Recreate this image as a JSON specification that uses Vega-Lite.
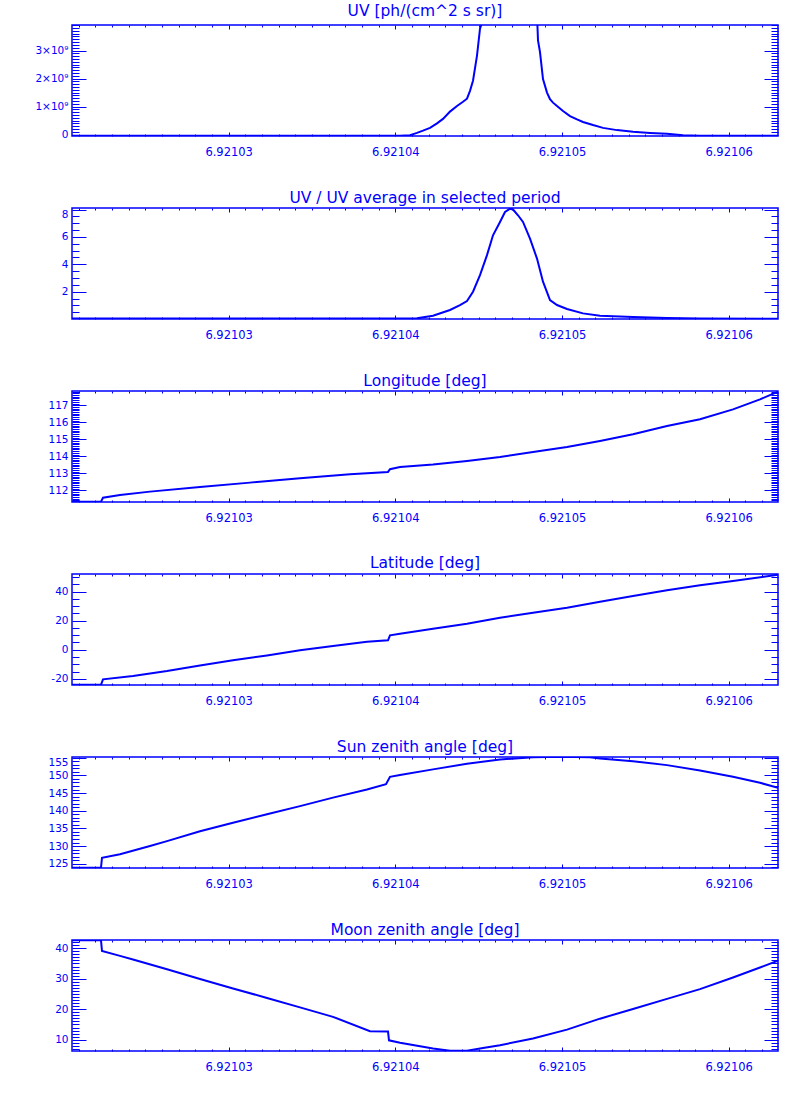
{
  "$schema": "https://vega.github.io/schema/vega-lite/v6.json",
  "background": "white",
  "padding": {"left": 34, "top": 3, "right": 5, "bottom": 5},
  "spacing": 72,
  "bounds": "flush",
  "datasets": {
    "uv": [
      {"x": 6.9210206, "y": -4e7}, {"x": 6.92104028, "y": -4e7}, {"x": 6.92104088, "y": -2e7},
      {"x": 6.9210413, "y": 6e7}, {"x": 6.92104166, "y": 1.4e8}, {"x": 6.92104208, "y": 2.4e8},
      {"x": 6.9210425, "y": 4e8}, {"x": 6.92104286, "y": 5.6e8}, {"x": 6.92104328, "y": 8.2e8},
      {"x": 6.9210437, "y": 1.02e9}, {"x": 6.92104406, "y": 1.17e9}, {"x": 6.9210443, "y": 1.28e9},
      {"x": 6.92104448, "y": 1.56e9}, {"x": 6.92104466, "y": 1.92e9}, {"x": 6.9210449, "y": 2.82e9},
      {"x": 6.92104508, "y": 3.78e9}, {"x": 6.9210455, "y": 4.5e9}, {"x": 6.92104586, "y": 5.9e9},
      {"x": 6.92104628, "y": 6.9e9}, {"x": 6.92104658, "y": 7.6e9}, {"x": 6.92104688, "y": 7.8e9},
      {"x": 6.92104736, "y": 7.35e9}, {"x": 6.92104766, "y": 6.9e9}, {"x": 6.92104808, "y": 5.7e9},
      {"x": 6.9210485, "y": 4.3e9}, {"x": 6.92104856, "y": 3.36e9}, {"x": 6.92104868, "y": 2.94e9},
      {"x": 6.92104886, "y": 1.98e9}, {"x": 6.9210491, "y": 1.5e9}, {"x": 6.92104928, "y": 1.26e9},
      {"x": 6.92104946, "y": 1.14e9}, {"x": 6.9210497, "y": 1.02e9}, {"x": 6.92105006, "y": 8.4e8},
      {"x": 6.92105048, "y": 6.6e8}, {"x": 6.9210509, "y": 5.4e8}, {"x": 6.92105126, "y": 4.5e8},
      {"x": 6.92105186, "y": 3.4e8}, {"x": 6.92105246, "y": 2.4e8}, {"x": 6.9210533, "y": 1.6e8},
      {"x": 6.92105426, "y": 1e8}, {"x": 6.92105528, "y": 6e7}, {"x": 6.9210563, "y": 3e7},
      {"x": 6.92105726, "y": -2e7}, {"x": 6.92105828, "y": -4e7}, {"x": 6.92106296, "y": -4e7}
    ],
    "ratio": [
      {"x": 6.9210206, "y": 0.04}, {"x": 6.9210413, "y": 0.06}, {"x": 6.92104226, "y": 0.25},
      {"x": 6.92104328, "y": 0.67}, {"x": 6.92104388, "y": 1.03}, {"x": 6.9210443, "y": 1.32},
      {"x": 6.92104466, "y": 2.0}, {"x": 6.92104508, "y": 3.21}, {"x": 6.9210455, "y": 4.67},
      {"x": 6.92104586, "y": 6.12}, {"x": 6.92104628, "y": 7.09}, {"x": 6.92104658, "y": 7.82},
      {"x": 6.92104688, "y": 8.06}, {"x": 6.92104706, "y": 8.0}, {"x": 6.92104736, "y": 7.58},
      {"x": 6.92104766, "y": 7.09}, {"x": 6.92104808, "y": 5.88}, {"x": 6.9210485, "y": 4.42},
      {"x": 6.92104886, "y": 2.73}, {"x": 6.92104928, "y": 1.39}, {"x": 6.9210497, "y": 1.03},
      {"x": 6.9210503, "y": 0.74}, {"x": 6.92105126, "y": 0.42}, {"x": 6.92105228, "y": 0.25},
      {"x": 6.92105426, "y": 0.15}, {"x": 6.9210563, "y": 0.09}, {"x": 6.92105828, "y": 0.05},
      {"x": 6.92106296, "y": 0.03}
    ],
    "lon": [
      {"x": 6.9210206, "y": 111.33}, {"x": 6.92102234, "y": 111.33}, {"x": 6.92102246, "y": 111.56},
      {"x": 6.92102348, "y": 111.72}, {"x": 6.92102528, "y": 111.92}, {"x": 6.92102828, "y": 112.19},
      {"x": 6.92103128, "y": 112.45}, {"x": 6.92103428, "y": 112.71}, {"x": 6.92103728, "y": 112.94},
      {"x": 6.92103956, "y": 113.08}, {"x": 6.92103968, "y": 113.24}, {"x": 6.92104028, "y": 113.37},
      {"x": 6.92104226, "y": 113.51}, {"x": 6.9210443, "y": 113.72}, {"x": 6.92104628, "y": 113.96},
      {"x": 6.92104826, "y": 114.25}, {"x": 6.9210503, "y": 114.55}, {"x": 6.92105228, "y": 114.9},
      {"x": 6.92105426, "y": 115.29}, {"x": 6.9210563, "y": 115.78}, {"x": 6.92105828, "y": 116.18},
      {"x": 6.92106026, "y": 116.76}, {"x": 6.92106188, "y": 117.35}, {"x": 6.92106296, "y": 117.8}
    ],
    "lat": [
      {"x": 6.9210206, "y": -24.2}, {"x": 6.92102234, "y": -24.2}, {"x": 6.92102246, "y": -20.4},
      {"x": 6.92102426, "y": -18.1}, {"x": 6.9210263, "y": -14.7}, {"x": 6.92102828, "y": -10.8},
      {"x": 6.92103026, "y": -7.3}, {"x": 6.9210323, "y": -3.9}, {"x": 6.92103428, "y": -0.4},
      {"x": 6.92103626, "y": 2.6}, {"x": 6.9210383, "y": 5.5}, {"x": 6.92103956, "y": 6.5},
      {"x": 6.92103968, "y": 9.9}, {"x": 6.92104028, "y": 11.0}, {"x": 6.92104226, "y": 14.5},
      {"x": 6.9210443, "y": 17.9}, {"x": 6.92104628, "y": 22.1}, {"x": 6.92104826, "y": 25.5},
      {"x": 6.9210503, "y": 29.0}, {"x": 6.92105228, "y": 33.1}, {"x": 6.92105426, "y": 37.0},
      {"x": 6.9210563, "y": 41.0}, {"x": 6.92105828, "y": 44.4}, {"x": 6.92106026, "y": 47.4},
      {"x": 6.92106296, "y": 51.7}
    ],
    "sun": [
      {"x": 6.9210206, "y": 123.9}, {"x": 6.92102234, "y": 123.9}, {"x": 6.9210224, "y": 126.7},
      {"x": 6.92102348, "y": 127.7}, {"x": 6.92102528, "y": 130.0}, {"x": 6.9210263, "y": 131.4},
      {"x": 6.92102828, "y": 134.2}, {"x": 6.92103026, "y": 136.6}, {"x": 6.9210323, "y": 139.0},
      {"x": 6.92103428, "y": 141.3}, {"x": 6.92103626, "y": 143.7}, {"x": 6.9210383, "y": 146.0},
      {"x": 6.92103944, "y": 147.5}, {"x": 6.92103968, "y": 149.6}, {"x": 6.92104028, "y": 150.1},
      {"x": 6.92104226, "y": 151.7}, {"x": 6.9210443, "y": 153.3}, {"x": 6.92104628, "y": 154.5},
      {"x": 6.92104826, "y": 155.1}, {"x": 6.92104994, "y": 155.3}, {"x": 6.92105168, "y": 155.1},
      {"x": 6.92105228, "y": 154.8}, {"x": 6.92105426, "y": 154.0}, {"x": 6.9210563, "y": 152.9},
      {"x": 6.92105828, "y": 151.4}, {"x": 6.92106026, "y": 149.6}, {"x": 6.92106188, "y": 147.9},
      {"x": 6.92106296, "y": 146.5}
    ],
    "moon": [
      {"x": 6.9210206, "y": 42.6}, {"x": 6.92102234, "y": 42.6}, {"x": 6.9210224, "y": 39.1},
      {"x": 6.92102348, "y": 37.5}, {"x": 6.92102426, "y": 36.3}, {"x": 6.9210263, "y": 33.1},
      {"x": 6.92102828, "y": 29.9}, {"x": 6.92103026, "y": 26.8}, {"x": 6.9210323, "y": 23.7},
      {"x": 6.92103428, "y": 20.6}, {"x": 6.92103626, "y": 17.5}, {"x": 6.92103848, "y": 12.8},
      {"x": 6.92103956, "y": 12.7}, {"x": 6.92103962, "y": 9.8}, {"x": 6.92104028, "y": 9.0},
      {"x": 6.92104226, "y": 7.1}, {"x": 6.92104328, "y": 6.4}, {"x": 6.9210443, "y": 6.4},
      {"x": 6.92104526, "y": 7.3}, {"x": 6.92104628, "y": 8.2}, {"x": 6.92104826, "y": 10.4},
      {"x": 6.9210503, "y": 13.3}, {"x": 6.92105228, "y": 16.9}, {"x": 6.92105426, "y": 20.1},
      {"x": 6.9210563, "y": 23.4}, {"x": 6.92105828, "y": 26.6}, {"x": 6.92106026, "y": 30.4},
      {"x": 6.92106188, "y": 33.7}, {"x": 6.92106296, "y": 35.9}
    ]
  },
  "vconcat": [
    {
      "title": "UV [ph/(cm^2 s sr)]",
      "width": 706, "height": 111,
      "data": {"name": "uv"},
      "layer": [
        {"mark": {"type": "line", "clip": true},
         "encoding": {
           "x": {"field": "x", "type": "quantitative", "scale": {"domain": [6.9210206, 6.92106296], "nice": false, "zero": false},
                 "axis": {"orient": "bottom", "title": null, "values": [6.921021,6.921022,6.921023,6.921024,6.921025,6.921026,6.921027,6.921028,6.921029,6.92103,6.921031,6.921032,6.921033,6.921034,6.921035,6.921036,6.921037,6.921038,6.921039,6.92104,6.921041,6.921042,6.921043,6.921044,6.921045,6.921046,6.921047,6.921048,6.921049,6.92105,6.921051,6.921052,6.921053,6.921054,6.921055,6.921056,6.921057,6.921058,6.921059,6.92106,6.921061,6.921062],
                          "tickSize": {"condition": {"test": "indexof([6.92103,6.92104,6.92105,6.92106], datum.value) >= 0", "value": -4}, "value": -2},
                          "labelExpr": "indexof([6.92103,6.92104,6.92105,6.92106], datum.value) >= 0 ? format(datum.value, '.5f') : ''", "labelPadding": 14}},
           "y": {"field": "y", "type": "quantitative", "scale": {"domain": [-5e7, 3.91e9], "nice": false, "zero": false},
                 "axis": {"orient": "left", "title": null, "values": [0,1e8,2e8,3e8,4e8,5e8,6e8,7e8,8e8,9e8,1e9,1.1e9,1.2e9,1.3e9,1.4e9,1.5e9,1.6e9,1.7e9,1.8e9,1.9e9,2e9,2.1e9,2.2e9,2.3e9,2.4e9,2.5e9,2.6e9,2.7e9,2.8e9,2.9e9,3e9,3.1e9,3.2e9,3.3e9,3.4e9,3.5e9,3.6e9,3.7e9,3.8e9,3.9e9],
                          "tickSize": {"condition": {"test": "datum.value % 1000000000 == 0", "value": -14}, "value": -7},
                          "labelExpr": "datum.value == 0 ? '0' : (datum.value % 1000000000 == 0 ? toString(datum.value / 1000000000) + '×10⁹' : '')", "labelPadding": 18, "labelFlush": false}}
         }},
        {"mark": {"type": "line", "strokeOpacity": 0, "clip": true},
         "encoding": {
           "x": {"field": "x", "type": "quantitative", "scale": {"domain": [6.9210206, 6.92106296], "nice": false, "zero": false},
                 "axis": {"orient": "top", "title": null, "labels": false, "values": [6.921021,6.921022,6.921023,6.921024,6.921025,6.921026,6.921027,6.921028,6.921029,6.92103,6.921031,6.921032,6.921033,6.921034,6.921035,6.921036,6.921037,6.921038,6.921039,6.92104,6.921041,6.921042,6.921043,6.921044,6.921045,6.921046,6.921047,6.921048,6.921049,6.92105,6.921051,6.921052,6.921053,6.921054,6.921055,6.921056,6.921057,6.921058,6.921059,6.92106,6.921061,6.921062],
                          "tickSize": {"condition": {"test": "indexof([6.92103,6.92104,6.92105,6.92106], datum.value) >= 0", "value": -4}, "value": -2}}},
           "y": {"field": "y", "type": "quantitative", "scale": {"domain": [-5e7, 3.91e9], "nice": false, "zero": false},
                 "axis": {"orient": "right", "title": null, "labels": false, "values": [0,1e8,2e8,3e8,4e8,5e8,6e8,7e8,8e8,9e8,1e9,1.1e9,1.2e9,1.3e9,1.4e9,1.5e9,1.6e9,1.7e9,1.8e9,1.9e9,2e9,2.1e9,2.2e9,2.3e9,2.4e9,2.5e9,2.6e9,2.7e9,2.8e9,2.9e9,3e9,3.1e9,3.2e9,3.3e9,3.4e9,3.5e9,3.6e9,3.7e9,3.8e9,3.9e9],
                          "tickSize": {"condition": {"test": "datum.value % 1000000000 == 0", "value": -14}, "value": -7}}}
         }}
      ],
      "resolve": {"axis": {"x": "independent", "y": "independent"}}
    },
    {
      "title": "UV / UV average in selected period",
      "width": 706, "height": 111,
      "data": {"name": "ratio"},
      "layer": [
        {"mark": {"type": "line", "clip": true},
         "encoding": {
           "x": {"field": "x", "type": "quantitative", "scale": {"domain": [6.9210206, 6.92106296], "nice": false, "zero": false},
                 "axis": {"orient": "bottom", "title": null, "values": [6.921021,6.921022,6.921023,6.921024,6.921025,6.921026,6.921027,6.921028,6.921029,6.92103,6.921031,6.921032,6.921033,6.921034,6.921035,6.921036,6.921037,6.921038,6.921039,6.92104,6.921041,6.921042,6.921043,6.921044,6.921045,6.921046,6.921047,6.921048,6.921049,6.92105,6.921051,6.921052,6.921053,6.921054,6.921055,6.921056,6.921057,6.921058,6.921059,6.92106,6.921061,6.921062],
                          "tickSize": {"condition": {"test": "indexof([6.92103,6.92104,6.92105,6.92106], datum.value) >= 0", "value": -4}, "value": -2},
                          "labelExpr": "indexof([6.92103,6.92104,6.92105,6.92106], datum.value) >= 0 ? format(datum.value, '.5f') : ''", "labelPadding": 14}},
           "y": {"field": "y", "type": "quantitative", "scale": {"domain": [0.01, 8.11], "nice": false, "zero": false},
                 "axis": {"orient": "left", "title": null, "values": [0.5,1,1.5,2,2.5,3,3.5,4,4.5,5,5.5,6,6.5,7,7.5,8],
                          "tickSize": {"condition": {"test": "datum.value % 2 == 0", "value": -14}, "value": -7},
                          "labelExpr": "datum.value % 2 == 0 ? toString(datum.value) : ''", "labelPadding": 18, "labelFlush": 3}}
         }},
        {"mark": {"type": "line", "strokeOpacity": 0, "clip": true},
         "encoding": {
           "x": {"field": "x", "type": "quantitative", "scale": {"domain": [6.9210206, 6.92106296], "nice": false, "zero": false},
                 "axis": {"orient": "top", "title": null, "labels": false, "values": [6.921021,6.921022,6.921023,6.921024,6.921025,6.921026,6.921027,6.921028,6.921029,6.92103,6.921031,6.921032,6.921033,6.921034,6.921035,6.921036,6.921037,6.921038,6.921039,6.92104,6.921041,6.921042,6.921043,6.921044,6.921045,6.921046,6.921047,6.921048,6.921049,6.92105,6.921051,6.921052,6.921053,6.921054,6.921055,6.921056,6.921057,6.921058,6.921059,6.92106,6.921061,6.921062],
                          "tickSize": {"condition": {"test": "indexof([6.92103,6.92104,6.92105,6.92106], datum.value) >= 0", "value": -4}, "value": -2}}},
           "y": {"field": "y", "type": "quantitative", "scale": {"domain": [0.01, 8.11], "nice": false, "zero": false},
                 "axis": {"orient": "right", "title": null, "labels": false, "values": [0.5,1,1.5,2,2.5,3,3.5,4,4.5,5,5.5,6,6.5,7,7.5,8],
                          "tickSize": {"condition": {"test": "datum.value % 2 == 0", "value": -14}, "value": -7}}}
         }}
      ],
      "resolve": {"axis": {"x": "independent", "y": "independent"}}
    },
    {
      "title": "Longitude [deg]",
      "width": 706, "height": 111,
      "data": {"name": "lon"},
      "layer": [
        {"mark": {"type": "line", "clip": true},
         "encoding": {
           "x": {"field": "x", "type": "quantitative", "scale": {"domain": [6.9210206, 6.92106296], "nice": false, "zero": false},
                 "axis": {"orient": "bottom", "title": null, "values": [6.921021,6.921022,6.921023,6.921024,6.921025,6.921026,6.921027,6.921028,6.921029,6.92103,6.921031,6.921032,6.921033,6.921034,6.921035,6.921036,6.921037,6.921038,6.921039,6.92104,6.921041,6.921042,6.921043,6.921044,6.921045,6.921046,6.921047,6.921048,6.921049,6.92105,6.921051,6.921052,6.921053,6.921054,6.921055,6.921056,6.921057,6.921058,6.921059,6.92106,6.921061,6.921062],
                          "tickSize": {"condition": {"test": "indexof([6.92103,6.92104,6.92105,6.92106], datum.value) >= 0", "value": -4}, "value": -2},
                          "labelExpr": "indexof([6.92103,6.92104,6.92105,6.92106], datum.value) >= 0 ? format(datum.value, '.5f') : ''", "labelPadding": 14}},
           "y": {"field": "y", "type": "quantitative", "scale": {"domain": [111.31, 117.84], "nice": false, "zero": false},
                 "axis": {"orient": "left", "title": null, "values": [111.4,111.5,111.6,111.7,111.8,111.9,112,112.1,112.2,112.3,112.4,112.5,112.6,112.7,112.8,112.9,113,113.1,113.2,113.3,113.4,113.5,113.6,113.7,113.8,113.9,114,114.1,114.2,114.3,114.4,114.5,114.6,114.7,114.8,114.9,115,115.1,115.2,115.3,115.4,115.5,115.6,115.7,115.8,115.9,116,116.1,116.2,116.3,116.4,116.5,116.6,116.7,116.8,116.9,117,117.1,117.2,117.3,117.4,117.5,117.6,117.7,117.8],
                          "tickSize": {"condition": {"test": "abs(datum.value - round(datum.value)) < 0.01", "value": -14}, "value": -7},
                          "labelExpr": "abs(datum.value - round(datum.value)) < 0.01 ? toString(round(datum.value)) : ''", "labelPadding": 18, "labelFlush": 3}}
         }},
        {"mark": {"type": "line", "strokeOpacity": 0, "clip": true},
         "encoding": {
           "x": {"field": "x", "type": "quantitative", "scale": {"domain": [6.9210206, 6.92106296], "nice": false, "zero": false},
                 "axis": {"orient": "top", "title": null, "labels": false, "values": [6.921021,6.921022,6.921023,6.921024,6.921025,6.921026,6.921027,6.921028,6.921029,6.92103,6.921031,6.921032,6.921033,6.921034,6.921035,6.921036,6.921037,6.921038,6.921039,6.92104,6.921041,6.921042,6.921043,6.921044,6.921045,6.921046,6.921047,6.921048,6.921049,6.92105,6.921051,6.921052,6.921053,6.921054,6.921055,6.921056,6.921057,6.921058,6.921059,6.92106,6.921061,6.921062],
                          "tickSize": {"condition": {"test": "indexof([6.92103,6.92104,6.92105,6.92106], datum.value) >= 0", "value": -4}, "value": -2}}},
           "y": {"field": "y", "type": "quantitative", "scale": {"domain": [111.31, 117.84], "nice": false, "zero": false},
                 "axis": {"orient": "right", "title": null, "labels": false, "values": [111.4,111.5,111.6,111.7,111.8,111.9,112,112.1,112.2,112.3,112.4,112.5,112.6,112.7,112.8,112.9,113,113.1,113.2,113.3,113.4,113.5,113.6,113.7,113.8,113.9,114,114.1,114.2,114.3,114.4,114.5,114.6,114.7,114.8,114.9,115,115.1,115.2,115.3,115.4,115.5,115.6,115.7,115.8,115.9,116,116.1,116.2,116.3,116.4,116.5,116.6,116.7,116.8,116.9,117,117.1,117.2,117.3,117.4,117.5,117.6,117.7,117.8],
                          "tickSize": {"condition": {"test": "abs(datum.value - round(datum.value)) < 0.01", "value": -14}, "value": -7}}}
         }}
      ],
      "resolve": {"axis": {"x": "independent", "y": "independent"}}
    },
    {
      "title": "Latitude [deg]",
      "width": 706, "height": 111,
      "data": {"name": "lat"},
      "layer": [
        {"mark": {"type": "line", "clip": true},
         "encoding": {
           "x": {"field": "x", "type": "quantitative", "scale": {"domain": [6.9210206, 6.92106296], "nice": false, "zero": false},
                 "axis": {"orient": "bottom", "title": null, "values": [6.921021,6.921022,6.921023,6.921024,6.921025,6.921026,6.921027,6.921028,6.921029,6.92103,6.921031,6.921032,6.921033,6.921034,6.921035,6.921036,6.921037,6.921038,6.921039,6.92104,6.921041,6.921042,6.921043,6.921044,6.921045,6.921046,6.921047,6.921048,6.921049,6.92105,6.921051,6.921052,6.921053,6.921054,6.921055,6.921056,6.921057,6.921058,6.921059,6.92106,6.921061,6.921062],
                          "tickSize": {"condition": {"test": "indexof([6.92103,6.92104,6.92105,6.92106], datum.value) >= 0", "value": -4}, "value": -2},
                          "labelExpr": "indexof([6.92103,6.92104,6.92105,6.92106], datum.value) >= 0 ? format(datum.value, '.5f') : ''", "labelPadding": 14}},
           "y": {"field": "y", "type": "quantitative", "scale": {"domain": [-24.3, 52.2], "nice": false, "zero": false},
                 "axis": {"orient": "left", "title": null, "values": [-20,-15,-10,-5,0,5,10,15,20,25,30,35,40,45,50],
                          "tickSize": {"condition": {"test": "datum.value % 20 == 0", "value": -14}, "value": -7},
                          "labelExpr": "datum.value % 20 == 0 ? toString(datum.value) : ''", "labelPadding": 18, "labelFlush": 3}}
         }},
        {"mark": {"type": "line", "strokeOpacity": 0, "clip": true},
         "encoding": {
           "x": {"field": "x", "type": "quantitative", "scale": {"domain": [6.9210206, 6.92106296], "nice": false, "zero": false},
                 "axis": {"orient": "top", "title": null, "labels": false, "values": [6.921021,6.921022,6.921023,6.921024,6.921025,6.921026,6.921027,6.921028,6.921029,6.92103,6.921031,6.921032,6.921033,6.921034,6.921035,6.921036,6.921037,6.921038,6.921039,6.92104,6.921041,6.921042,6.921043,6.921044,6.921045,6.921046,6.921047,6.921048,6.921049,6.92105,6.921051,6.921052,6.921053,6.921054,6.921055,6.921056,6.921057,6.921058,6.921059,6.92106,6.921061,6.921062],
                          "tickSize": {"condition": {"test": "indexof([6.92103,6.92104,6.92105,6.92106], datum.value) >= 0", "value": -4}, "value": -2}}},
           "y": {"field": "y", "type": "quantitative", "scale": {"domain": [-24.3, 52.2], "nice": false, "zero": false},
                 "axis": {"orient": "right", "title": null, "labels": false, "values": [-20,-15,-10,-5,0,5,10,15,20,25,30,35,40,45,50],
                          "tickSize": {"condition": {"test": "datum.value % 20 == 0", "value": -14}, "value": -7}}}
         }}
      ],
      "resolve": {"axis": {"x": "independent", "y": "independent"}}
    },
    {
      "title": "Sun zenith angle [deg]",
      "width": 706, "height": 111,
      "data": {"name": "sun"},
      "layer": [
        {"mark": {"type": "line", "clip": true},
         "encoding": {
           "x": {"field": "x", "type": "quantitative", "scale": {"domain": [6.9210206, 6.92106296], "nice": false, "zero": false},
                 "axis": {"orient": "bottom", "title": null, "values": [6.921021,6.921022,6.921023,6.921024,6.921025,6.921026,6.921027,6.921028,6.921029,6.92103,6.921031,6.921032,6.921033,6.921034,6.921035,6.921036,6.921037,6.921038,6.921039,6.92104,6.921041,6.921042,6.921043,6.921044,6.921045,6.921046,6.921047,6.921048,6.921049,6.92105,6.921051,6.921052,6.921053,6.921054,6.921055,6.921056,6.921057,6.921058,6.921059,6.92106,6.921061,6.921062],
                          "tickSize": {"condition": {"test": "indexof([6.92103,6.92104,6.92105,6.92106], datum.value) >= 0", "value": -4}, "value": -2},
                          "labelExpr": "indexof([6.92103,6.92104,6.92105,6.92106], datum.value) >= 0 ? format(datum.value, '.5f') : ''", "labelPadding": 14}},
           "y": {"field": "y", "type": "quantitative", "scale": {"domain": [123.8, 155.2], "nice": false, "zero": false},
                 "axis": {"orient": "left", "title": null, "values": [124,125,126,127,128,129,130,131,132,133,134,135,136,137,138,139,140,141,142,143,144,145,146,147,148,149,150,151,152,153,154,155],
                          "tickSize": {"condition": {"test": "datum.value % 5 == 0", "value": -14}, "value": -7},
                          "labelExpr": "datum.value % 5 == 0 ? toString(datum.value) : ''", "labelPadding": 18, "labelFlush": 3}}
         }},
        {"mark": {"type": "line", "strokeOpacity": 0, "clip": true},
         "encoding": {
           "x": {"field": "x", "type": "quantitative", "scale": {"domain": [6.9210206, 6.92106296], "nice": false, "zero": false},
                 "axis": {"orient": "top", "title": null, "labels": false, "values": [6.921021,6.921022,6.921023,6.921024,6.921025,6.921026,6.921027,6.921028,6.921029,6.92103,6.921031,6.921032,6.921033,6.921034,6.921035,6.921036,6.921037,6.921038,6.921039,6.92104,6.921041,6.921042,6.921043,6.921044,6.921045,6.921046,6.921047,6.921048,6.921049,6.92105,6.921051,6.921052,6.921053,6.921054,6.921055,6.921056,6.921057,6.921058,6.921059,6.92106,6.921061,6.921062],
                          "tickSize": {"condition": {"test": "indexof([6.92103,6.92104,6.92105,6.92106], datum.value) >= 0", "value": -4}, "value": -2}}},
           "y": {"field": "y", "type": "quantitative", "scale": {"domain": [123.8, 155.2], "nice": false, "zero": false},
                 "axis": {"orient": "right", "title": null, "labels": false, "values": [124,125,126,127,128,129,130,131,132,133,134,135,136,137,138,139,140,141,142,143,144,145,146,147,148,149,150,151,152,153,154,155],
                          "tickSize": {"condition": {"test": "datum.value % 5 == 0", "value": -14}, "value": -7}}}
         }}
      ],
      "resolve": {"axis": {"x": "independent", "y": "independent"}}
    },
    {
      "title": "Moon zenith angle [deg]",
      "width": 706, "height": 111,
      "data": {"name": "moon"},
      "layer": [
        {"mark": {"type": "line", "clip": true},
         "encoding": {
           "x": {"field": "x", "type": "quantitative", "scale": {"domain": [6.9210206, 6.92106296], "nice": false, "zero": false},
                 "axis": {"orient": "bottom", "title": null, "values": [6.921021,6.921022,6.921023,6.921024,6.921025,6.921026,6.921027,6.921028,6.921029,6.92103,6.921031,6.921032,6.921033,6.921034,6.921035,6.921036,6.921037,6.921038,6.921039,6.92104,6.921041,6.921042,6.921043,6.921044,6.921045,6.921046,6.921047,6.921048,6.921049,6.92105,6.921051,6.921052,6.921053,6.921054,6.921055,6.921056,6.921057,6.921058,6.921059,6.92106,6.921061,6.921062],
                          "tickSize": {"condition": {"test": "indexof([6.92103,6.92104,6.92105,6.92106], datum.value) >= 0", "value": -4}, "value": -2},
                          "labelExpr": "indexof([6.92103,6.92104,6.92105,6.92106], datum.value) >= 0 ? format(datum.value, '.5f') : ''", "labelPadding": 14}},
           "y": {"field": "y", "type": "quantitative", "scale": {"domain": [6.3, 42.7], "nice": false, "zero": false},
                 "axis": {"orient": "left", "title": null, "values": [7,8,9,10,11,12,13,14,15,16,17,18,19,20,21,22,23,24,25,26,27,28,29,30,31,32,33,34,35,36,37,38,39,40,41,42],
                          "tickSize": {"condition": {"test": "datum.value % 10 == 0", "value": -14}, "value": -7},
                          "labelExpr": "datum.value % 10 == 0 ? toString(datum.value) : ''", "labelPadding": 18, "labelFlush": 3}}
         }},
        {"mark": {"type": "line", "strokeOpacity": 0, "clip": true},
         "encoding": {
           "x": {"field": "x", "type": "quantitative", "scale": {"domain": [6.9210206, 6.92106296], "nice": false, "zero": false},
                 "axis": {"orient": "top", "title": null, "labels": false, "values": [6.921021,6.921022,6.921023,6.921024,6.921025,6.921026,6.921027,6.921028,6.921029,6.92103,6.921031,6.921032,6.921033,6.921034,6.921035,6.921036,6.921037,6.921038,6.921039,6.92104,6.921041,6.921042,6.921043,6.921044,6.921045,6.921046,6.921047,6.921048,6.921049,6.92105,6.921051,6.921052,6.921053,6.921054,6.921055,6.921056,6.921057,6.921058,6.921059,6.92106,6.921061,6.921062],
                          "tickSize": {"condition": {"test": "indexof([6.92103,6.92104,6.92105,6.92106], datum.value) >= 0", "value": -4}, "value": -2}}},
           "y": {"field": "y", "type": "quantitative", "scale": {"domain": [6.3, 42.7], "nice": false, "zero": false},
                 "axis": {"orient": "right", "title": null, "labels": false, "values": [7,8,9,10,11,12,13,14,15,16,17,18,19,20,21,22,23,24,25,26,27,28,29,30,31,32,33,34,35,36,37,38,39,40,41,42],
                          "tickSize": {"condition": {"test": "datum.value % 10 == 0", "value": -14}, "value": -7}}}
         }}
      ],
      "resolve": {"axis": {"x": "independent", "y": "independent"}}
    }
  ],
  "config": {
    "view": {"stroke": "#0000ff", "strokeWidth": 1.5},
    "axis": {"domain": false, "grid": false, "tickColor": "#0000ff", "tickWidth": 1, "labelColor": "#0000ff", "labelFont": "DejaVu Sans", "labelFontSize": 11.5, "labelOverlap": false},
    "axisLeft": {"labelFontSize": 10.5},
    "title": {"color": "#0000ff", "font": "DejaVu Sans", "fontSize": 15.5, "fontWeight": "normal", "offset": 1, "anchor": "middle", "frame": "group"},
    "line": {"color": "#0000ff", "strokeWidth": 2}
  }
}
